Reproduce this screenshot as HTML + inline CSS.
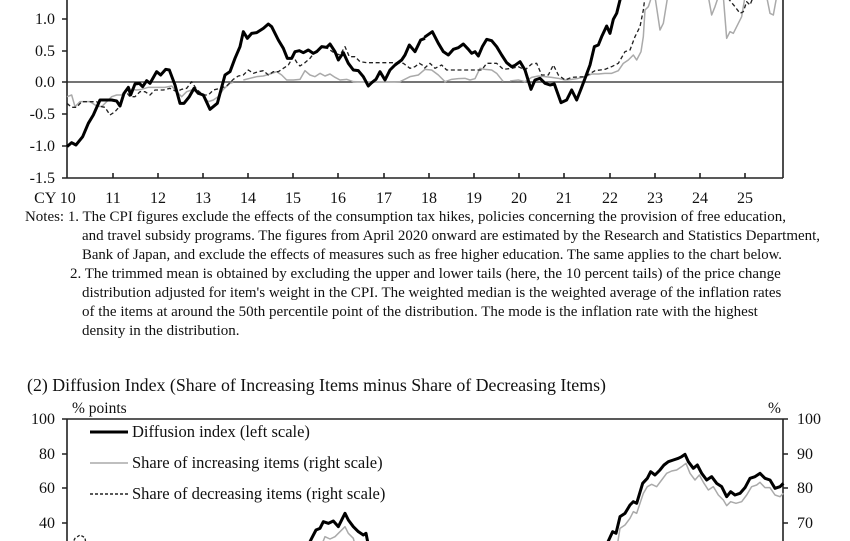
<!DOCTYPE html>
<html><head><meta charset="utf-8"><style>
html,body{margin:0;padding:0;background:#fff;width:850px;height:541px;overflow:hidden}
svg{position:absolute;left:0;top:0}
text{font-family:"Liberation Serif",serif;fill:#111}
</style></head><body>
<svg width="850" height="541" viewBox="0 0 850 541" xmlns="http://www.w3.org/2000/svg">
<g stroke="#222" stroke-width="1.6" fill="none">
<line x1="67" y1="0" x2="67" y2="178"/>
<line x1="783" y1="0" x2="783" y2="178"/>
<line x1="67" y1="178" x2="783" y2="178"/>
<line x1="67" y1="82" x2="783" y2="82" stroke-width="1.3"/>
<path d="M62 19H67M62 51H67M62 82H67M62 114H67M62 146H67M62 178H67"/>
<path d="M113 178v-5M158 178v-5M203 178v-5M248 178v-5M293 178v-5M338 178v-5M384 178v-5M429 178v-5M474 178v-5M519 178v-5M564 178v-5M610 178v-5M655 178v-5M700 178v-5M745 178v-5"/>
</g>
<g font-size="16" text-anchor="end">
<text x="55" y="24">1.0</text><text x="55" y="56">0.5</text><text x="55" y="87">0.0</text>
<text x="55" y="119">-0.5</text><text x="55" y="151">-1.0</text><text x="55" y="183">-1.5</text>
</g>
<g font-size="16" text-anchor="middle">
<text x="55" y="203">CY 10</text><text x="113" y="203">11</text><text x="158" y="203">12</text><text x="203" y="203">13</text><text x="248" y="203">14</text><text x="293" y="203">15</text><text x="338" y="203">16</text><text x="384" y="203">17</text><text x="429" y="203">18</text><text x="474" y="203">19</text><text x="519" y="203">20</text><text x="564" y="203">21</text><text x="610" y="203">22</text><text x="655" y="203">23</text><text x="700" y="203">24</text><text x="745" y="203">25</text>
</g>
<svg x="0" y="0" width="850" height="178" viewBox="0 0 850 178" overflow="hidden">
<g transform="scale(0.33333)" fill="none" stroke-linejoin="round">
<polyline stroke="#aaa" stroke-width="4.5" points="201,290 215,285 225,320 240,305 255,305 270,305 290,318 305,320 320,305 335,290 350,285 365,285 380,268 395,268 410,270 425,268 445,262 470,262 495,262 515,258 530,275 545,290 560,275 575,270 595,275 610,290 625,305 640,300 655,290 670,268 690,250 700,247"/>
<polyline stroke="#aaa" stroke-width="4.5" points="730,240 750,235 770,230 790,228 810,222 830,215 845,225 860,240 880,240 900,238 915,212 930,225 945,230 960,220 975,228 990,222 1005,232 1020,240 1040,238 1060,245 1100,246 1150,246 1200,245 1230,230 1255,225 1275,208"/>
<polyline stroke="#222" stroke-width="4" stroke-dasharray="12,8" points="201,310 215,322 230,322 245,305 270,305 290,305 305,320 315,322 330,345 345,335 360,318 375,272 390,290 405,290 420,275 435,275 450,285 465,270 490,270 510,265 530,275 545,268 560,265 575,245 590,268 610,285 625,285 640,270 660,265 680,258 700,238 715,228 730,225 745,210 760,220 775,215 790,212 805,225 820,215 835,215 850,205 865,195 880,170 892,190 900,198 915,188 930,175 945,155 960,145 975,140 990,150 1005,160 1020,165 1035,140 1048,170 1065,170 1080,185 1100,188 1150,188 1180,188 1210,190 1230,205 1245,200 1258,190 1275,200"/>
<polyline stroke="#000" stroke-width="9" points="201,440 215,428 228,435 248,410 265,370 280,345 300,300 318,300 335,300 350,303 360,318 372,280 385,262 392,285 405,252 418,250 428,260 440,242 450,250 470,215 482,225 497,208 508,210 525,255 540,310 552,310 568,290 582,265 595,280 610,285 630,328 652,310 675,225 690,215 705,175 720,140 730,95 742,115 755,100 770,98 790,85 805,72 815,80 835,120 850,145 862,175 875,175 885,155 898,152 910,158 925,150 940,160 950,155 965,140 980,142 990,132 1005,155 1015,180 1030,158 1045,190 1060,210 1075,212 1090,230 1105,258 1115,248 1128,238 1140,215 1155,240 1170,210 1185,195 1205,180 1215,165 1228,135 1245,155 1262,120 1275,115"/>
</g>
<g transform="translate(425,0) scale(0.33333)" fill="none" stroke-linejoin="round">
<polyline stroke="#aaa" stroke-width="4.5" points="-2,208 20,210 40,225 60,245 80,238 100,236 120,235 135,240 150,236 165,205 180,208 200,210 215,220 235,245"/>
<polyline stroke="#aaa" stroke-width="4.5" points="255,243 280,240 300,245 320,232 340,228 360,230 380,232 400,235 420,240 440,238 460,235 480,230 500,222 520,222 540,220 560,220 580,212 595,190 610,180 625,165 635,180 648,155 655,110 660,30 670,20 680,-10 690,-10 705,90 715,70 728,-10 850,-10 860,45 870,20 880,-10 895,-10 905,115 915,95 925,100 950,50 960,-10 1025,-10 1035,40 1045,45 1055,-10"/>
<polyline stroke="#222" stroke-width="4" stroke-dasharray="12,8" points="-2,205 15,190 30,205 50,195 65,210 100,210 170,210 185,190 215,190 235,208 260,205 280,200 300,210 320,192 335,190 350,225 370,225 385,195 400,225 420,240 440,232 480,230 510,212 540,208 560,200 580,190 600,155 615,150 630,110 645,80 655,30 660,-10 905,-10 930,20 945,40 955,35 965,5 975,15 985,-10"/>
<polyline stroke="#000" stroke-width="9" points="-2,112 22,95 40,130 55,155 70,165 85,148 100,143 115,132 130,148 140,160 150,155 160,168 172,140 185,118 200,122 215,140 230,165 245,188 260,200 270,196 285,185 300,210 318,268 330,240 345,235 360,250 375,255 388,252 408,308 425,300 440,270 455,300 470,262 482,230 495,195 508,140 520,135 530,110 545,78 555,100 565,58 575,40 585,0 592,-20"/>
</g>
</svg>
<g font-size="15">
<text x="25" y="221" textLength="761" lengthAdjust="spacingAndGlyphs">Notes: 1. The CPI figures exclude the effects of the consumption tax hikes, policies concerning the provision of free education,</text>
<text x="82" y="240" textLength="738" lengthAdjust="spacingAndGlyphs">and travel subsidy programs. The figures from April 2020 onward are estimated by the Research and Statistics Department,</text>
<text x="82" y="259" textLength="700" lengthAdjust="spacingAndGlyphs">Bank of Japan, and exclude the effects of measures such as free higher education. The same applies to the chart below.</text>
<text x="70" y="278">2. The trimmed mean is obtained by excluding the upper and lower tails (here, the 10 percent tails) of the price change</text>
<text x="82" y="297">distribution adjusted for item's weight in the CPI. The weighted median is the weighted average of the inflation rates</text>
<text x="82" y="316">of the items at around the 50th percentile point of the distribution. The mode is the inflation rate with the highest</text>
<text x="82" y="335">density in the distribution.</text>
</g>
<text x="27" y="391" font-size="17.8" textLength="579" lengthAdjust="spacingAndGlyphs">(2) Diffusion Index (Share of Increasing Items minus Share of Decreasing Items)</text>
<text x="72" y="413" font-size="15.5">% points</text>
<text x="768" y="413" font-size="15.5">%</text>
<g stroke="#222" stroke-width="1.6" fill="none">
<line x1="67" y1="419" x2="783" y2="419"/>
<line x1="67" y1="419" x2="67" y2="541"/>
<line x1="783" y1="419" x2="783" y2="541"/>
<path d="M62 419H67M62 454H67M62 488H67M62 523H67"/>
<path d="M783 419h5M783 454h5M783 488h5M783 523h5"/>
</g>
<g font-size="16" text-anchor="end">
<text x="55" y="424">100</text><text x="55" y="459">80</text><text x="55" y="493">60</text><text x="55" y="528">40</text>
</g>
<g font-size="16">
<text x="797" y="424">100</text><text x="797" y="459">90</text><text x="797" y="493">80</text><text x="797" y="528">70</text>
</g>
<line x1="90" y1="432" x2="128" y2="432" stroke="#000" stroke-width="3"/>
<line x1="90" y1="463" x2="128" y2="463" stroke="#aaa" stroke-width="1.5"/>
<line x1="90" y1="494" x2="128" y2="494" stroke="#222" stroke-width="1.4" stroke-dasharray="3,2"/>
<g font-size="16.5">
<text x="132" y="437">Diffusion index (left scale)</text>
<text x="132" y="468">Share of increasing items (right scale)</text>
<text x="132" y="499">Share of decreasing items (right scale)</text>
</g>
<svg x="0" y="419" width="850" height="122" viewBox="0 419 850 122" overflow="hidden">
<g transform="translate(0,395) scale(0.33333)" fill="none" stroke-linejoin="round">
<polyline stroke="#222" stroke-width="4" stroke-dasharray="9,6" points="215,450 225,430 240,420 255,428 258,450"/>
<polyline stroke="#aaa" stroke-width="4.5" points="965,450 975,425 990,432 1005,425 1020,410 1035,395 1045,415 1060,430 1065,450"/>
<polyline stroke="#000" stroke-width="9" points="925,450 935,430 948,405 960,400 970,380 985,385 1000,378 1015,395 1035,355 1045,375 1060,395 1075,410 1090,420 1098,415 1105,450"/>
</g>
<g transform="translate(560,395) scale(0.33333)" fill="none" stroke-linejoin="round">
<polyline stroke="#aaa" stroke-width="4.5" points="172,450 180,400 195,390 210,370 220,350 230,355 250,295 262,275 275,268 290,275 305,255 320,235 335,228 350,225 365,215 378,205 390,235 405,255 418,240 432,265 445,285 460,275 475,300 490,315 500,332 512,320 528,325 545,320 560,300 575,275 590,270 600,262 615,278 630,278 645,300 660,305 670,295"/>
<polyline stroke="#000" stroke-width="9" points="140,450 145,438 158,410 168,415 180,365 195,355 210,330 220,320 230,325 248,265 262,250 272,230 285,240 300,225 312,210 325,200 340,195 355,190 365,185 375,178 385,200 400,220 412,210 425,235 440,255 455,245 470,265 485,275 500,305 512,290 525,300 540,295 555,278 570,250 585,245 600,235 615,250 630,255 645,280 660,275 670,265"/>
</g>
</svg>
</svg>
</body></html>
